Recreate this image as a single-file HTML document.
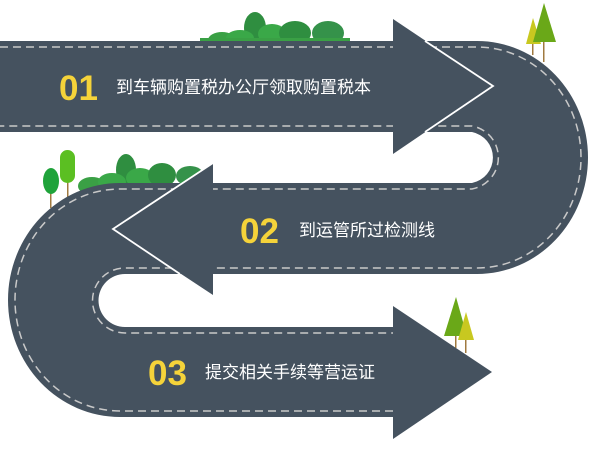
<!DOCTYPE html>
<html><head><meta charset="utf-8"><style>
html,body{margin:0;padding:0;background:#fff;width:600px;height:460px;overflow:hidden}
svg{display:block}
text{font-family:"Liberation Sans","Noto Sans CJK SC",sans-serif}
</style></head><body>
<svg width="600" height="460" viewBox="0 0 600 460">
<!-- bushes top -->
<ellipse cx="222" cy="40" rx="14" ry="8" fill="#3aa045"/>
<ellipse cx="255" cy="28" rx="11" ry="16" fill="#2f8e40"/>
<ellipse cx="240" cy="38" rx="14" ry="8" fill="#3aa848"/>
<ellipse cx="272" cy="34" rx="14" ry="10" fill="#3aa848"/>
<ellipse cx="295" cy="33" rx="16" ry="12" fill="#2f8e40"/>
<ellipse cx="328" cy="33" rx="16" ry="12" fill="#35924a"/>
<rect x="200" y="38" width="150" height="4" fill="#3aa045"/>
<!-- right top trees -->
<rect x="532" y="40" width="1.5" height="15" fill="#a07a40"/>
<polygon points="533,18 526,44 541,44" fill="#c8c820"/>
<rect x="543" y="38" width="1.5" height="24" fill="#a07a40"/>
<polygon points="544,3 533,42 556,42" fill="#6aa818"/>
<!-- left trees and bushes -->
<ellipse cx="92" cy="186" rx="14" ry="9" fill="#3aa045"/>
<ellipse cx="126" cy="170" rx="10" ry="16" fill="#2f8e40"/>
<ellipse cx="112" cy="182" rx="14" ry="9" fill="#3aa848"/>
<ellipse cx="140" cy="178" rx="14" ry="10" fill="#3aa848"/>
<ellipse cx="162" cy="175" rx="14" ry="12" fill="#2f8e40"/>
<ellipse cx="190" cy="176" rx="14" ry="10" fill="#35924a"/>
<rect x="50" y="180" width="1.5" height="28" fill="#a07a40"/>
<ellipse cx="51" cy="181" rx="8" ry="13" fill="#1fa33a"/>
<rect x="67" y="165" width="1.5" height="32" fill="#a07a40"/>
<rect x="60" y="150" width="15" height="33" rx="7.5" fill="#5bbf22"/>
<!-- bottom right trees -->
<rect x="455" y="330" width="1.5" height="18" fill="#a07a40"/>
<polygon points="456,297 444,336 467,336" fill="#6aa818"/>
<rect x="465" y="335" width="1.5" height="18" fill="#a07a40"/>
<polygon points="466,312 458,340 474,340" fill="#c8c820"/>
<!-- road -->
<path d="M0,41 H477 A111,116.5 0 0 1 477,274 H125 A26,26 0 0 0 125,327 H393 V417 H120 A112,117 0 0 1 120,183 H472 A26,26 0 0 0 472,132 H0 Z" fill="#45525f"/>
<g fill="none" stroke="#c9c9c9" stroke-width="1.5" stroke-dasharray="8 5">
<path d="M0,47 H477 A104,110.5 0 0 1 477,268 H125 A32.5,32.5 0 0 0 125,333 H393"/>
<path d="M393,411 H120 A105,111 0 0 1 120,189 H472 A32,32 0 0 0 472,126 H0"/>
</g>
<!-- arrowheads -->
<polygon points="393,19 493,86 393,154" fill="#45525f"/>
<polyline points="425,41 493,86 425,132" fill="none" stroke="#fff" stroke-width="1.8"/>
<polygon points="213,163 113,229 213,295" fill="#45525f"/>
<polyline points="213,163 113,229 180,274" fill="none" stroke="#fff" stroke-width="1.8"/>
<polygon points="393,306 492,372 393,439" fill="#45525f"/>
<!-- labels -->
<text x="59" y="100" font-size="35" font-weight="bold" fill="#f5d33a">01</text>
<text x="116" y="93" font-size="17" fill="#fff">到车辆购置税办公厅领取购置税本</text>
<text x="240" y="243" font-size="35" font-weight="bold" fill="#f5d33a">02</text>
<text x="299" y="236" font-size="17" fill="#fff">到运管所过检测线</text>
<text x="148" y="385" font-size="35" font-weight="bold" fill="#f5d33a">03</text>
<text x="205" y="378" font-size="17" fill="#fff">提交相关手续等营运证</text>
</svg>
</body></html>
